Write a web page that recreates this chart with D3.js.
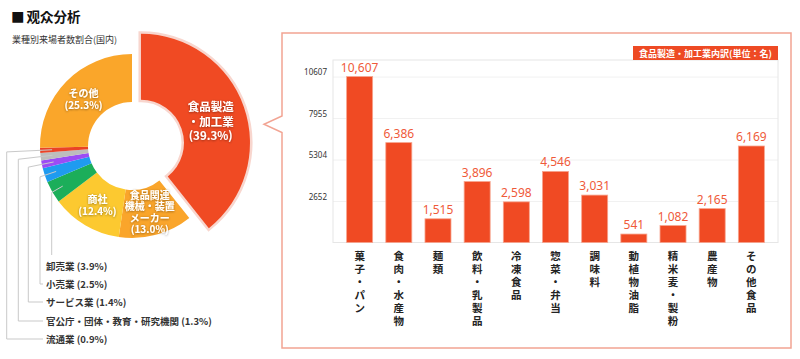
<!DOCTYPE html>
<html>
<head>
<meta charset="utf-8">
<script src="https://cdn.jsdelivr.net/npm/d3@7"></script>
<style>
  body { margin: 0; background: #fff; }
  svg { display: block; font-family: "Noto Sans CJK JP", "Noto Sans", sans-serif; }
</style>
</head>
<body>
<svg id="chart" width="800" height="359"></svg>
<script>
// donut: visitors by industry
var pieNames = ["食品製造\n・加工業", "食品関連\n機械・装置\nメーカー", "商社", "卸売業", "小売業",
                "サービス業", "官公庁・団体・教育・研究機関", "流通業", "その他"];
var pieShares = [39.3, 13.0, 12.4, 3.9, 2.5, 1.4, 1.3, 0.9, 25.3];
var pieColors = ["#f04a23", "#faa52b", "#fcc930", "#1cae5a", "#1f9bf0", "#9b4cf5", "#bdbdbd", "#ea4226", "#faa62a"];
var pieInside = [true, true, true, false, false, false, false, false, true];

// bars: breakdown of food manufacturing
var barNames = ["菓子・パン", "食肉・水産物", "麺類", "飲料・乳製品", "冷凍食品", "惣菜・弁当",
                "調味料", "動植物油脂", "精米麦・製粉", "農産物", "その他食品"];
var barValues = [10607, 6386, 1515, 3896, 2598, 4546, 3031, 541, 1082, 2165, 6169];
var yTicks = [2652, 5304, 7955, 10607];

var svg = d3.select("#chart");

var defs = svg.append("defs");
defs.append("filter").attr("id", "shadow")
    .attr("x", "-20%").attr("y", "-20%").attr("width", "140%").attr("height", "140%")
  .append("feDropShadow")
    .attr("dx", 0).attr("dy", 0.6).attr("stdDeviation", 0.9)
    .attr("flood-color", "#000").attr("flood-opacity", 0.45);

// titles
svg.append("text").attr("x", 11).attr("y", 15.5).attr("dominant-baseline", "central")
    .attr("font-size", 13.5).attr("font-weight", "bold").attr("fill", "#111").text("■");
svg.append("text").attr("x", 26.5).attr("y", 15.5).attr("dominant-baseline", "central")
    .attr("font-size", 13.5).attr("font-weight", "bold").attr("fill", "#111").text("观众分析");
svg.append("text").attr("x", 12).attr("y", 39).attr("dominant-baseline", "central")
    .attr("font-size", 9).attr("fill", "#333").text("業種別来場者数割合(国内)");

// ---- donut ----
var cx = 132, cy = 146, rIn = 44, rOut = 92;
var pie = d3.pie().sort(null).value(function(d) { return d; });
var arcs = pie(pieShares);
var arc = d3.arc().innerRadius(rIn).outerRadius(rOut);
var arcMain = d3.arc().innerRadius(43).outerRadius(109);

var gPie = svg.append("g").attr("transform", "translate(" + cx + "," + cy + ")");

function offset(d, i) {
  if (i !== 0) return [0, 0];
  var a = (d.startAngle + d.endAngle) / 2;
  return [9.5 * Math.sin(a), -9.5 * Math.cos(a)];
}

gPie.selectAll("path.slice")
  .data(arcs)
  .enter().append("path")
    .attr("class", "slice")
    .attr("transform", function(d, i) { var o = offset(d, i); return "translate(" + o[0] + "," + o[1] + ")"; })
    .attr("d", function(d, i) { return i === 0 ? arcMain(d) : arc(d); })
    .attr("fill", function(d, i) { return pieColors[i]; })
    .attr("stroke", function(d, i) { return i === 0 ? "#f8d6ce" : "none"; })
    .attr("stroke-width", function(d, i) { return i === 0 ? 5 : 0; })
    .attr("paint-order", "stroke");

// leader lines + outside labels
var leaderX = [51.7, 40, 28.3, 18.3, 6.7];
var leaderY = [266, 284, 302, 321, 339];
var labelX = 46;
var outside = arcs.filter(function(d, i) { return !pieInside[i]; });

outside.forEach(function(d, k) {
  var i = d.index;
  var a = (d.startAngle + d.endAngle) / 2;
  var sx = cx + 80 * Math.sin(a), sy = cy - 80 * Math.cos(a);
  var re = (cx - leaderX[k]) / -Math.sin(a);
  var ex = leaderX[k], ey = cy - re * Math.cos(a);
  var pts = [[sx, sy], [ex, ey]];
  if (ex > labelX - 3) {
    pts.push([ex, leaderY[k] - 11]);
  } else {
    pts.push([ex, leaderY[k]]);
    pts.push([labelX - 3, leaderY[k]]);
  }
  svg.append("path")
      .attr("d", d3.line()(pts))
      .attr("fill", "none")
      .attr("stroke", "#c9c9c9")
      .attr("stroke-width", 1);
  svg.append("text")
      .attr("x", labelX).attr("y", leaderY[k])
      .attr("dominant-baseline", "central")
      .attr("font-size", 9.5).attr("font-weight", "bold").attr("fill", "#333")
      .text(pieNames[i] + " (" + pieShares[i].toFixed(1) + "%)");
});

// inside labels
arcs.forEach(function(d, i) {
  if (!pieInside[i]) return;
  var o = offset(d, i);
  var c = i === 0 ? arcMain.centroid(d) : arc.centroid(d);
  var lines = pieNames[i].split("\n").concat(["(" + pieShares[i].toFixed(1) + "%)"]);
  var lh = i === 0 ? 14.5 : 11.5;
  var fs = i === 0 ? 11.5 : 10;
  var t = gPie.append("text")
      .attr("text-anchor", "middle")
      .attr("font-size", fs).attr("font-weight", "bold").attr("fill", "#fff")
      .attr("filter", "url(#shadow)");
  lines.forEach(function(s, j) {
    t.append("tspan")
        .attr("x", c[0] + o[0] - (i === 0 ? 2 : 0))
        .attr("y", c[1] + o[1] + (i === 0 ? 3 : 0) + (j - (lines.length - 1) / 2) * lh)
        .attr("dominant-baseline", "central")
        .text(s);
  });
});

// ---- right panel ----
var box = { l: 282, t: 33, r: 791, b: 348 };
svg.append("path")
    .attr("d", "M" + box.l + "," + box.t + "H" + box.r + "V" + box.b + "H" + box.l +
               "V132.5L264,124.3L" + box.l + ",116Z")
    .attr("fill", "#fff")
    .attr("stroke", "#f2a493")
    .attr("stroke-width", 1.5);

var plot = { l: 333, t: 60, r: 778, b: 242.5 };

var x = d3.scaleBand().domain(barNames).range([plot.l, plot.r])
    .paddingInner(0.336).paddingOuter(0.348);
var y = d3.scaleLinear().domain([0, 10607 * 1.1]).range([plot.b, plot.t]);

// grid + y labels
var yAxis = svg.append("g")
    .attr("transform", "translate(" + plot.l + ",0)")
    .call(d3.axisLeft(y).tickValues(yTicks).tickSize(-(plot.r - plot.l)).tickFormat(d3.format("d")));
yAxis.select(".domain").remove();
yAxis.selectAll(".tick line").attr("stroke", "#f1f1f1");
yAxis.selectAll(".tick text")
    .attr("x", -6).attr("dy", "-5.5").attr("dominant-baseline", "central")
    .attr("font-size", 8).attr("fill", "#333")
    .attr("font-family", "\"Noto Sans\", sans-serif");

svg.append("rect")
    .attr("x", plot.l).attr("y", plot.t)
    .attr("width", plot.r - plot.l).attr("height", plot.b - plot.t)
    .attr("fill", "none").attr("stroke", "#e6e6e6").attr("stroke-width", 1);

// badge
svg.append("rect").attr("x", 633).attr("y", 46).attr("width", plot.r - 633).attr("height", 14)
    .attr("fill", "#ee4a24");
svg.append("text").attr("x", (633 + plot.r) / 2).attr("y", 53)
    .attr("text-anchor", "middle").attr("dominant-baseline", "central")
    .attr("font-size", 9).attr("font-weight", "bold").attr("fill", "#fff")
    .text("食品製造・加工業内訳(単位：名)");

// bars
svg.append("g").selectAll("rect")
  .data(barValues)
  .enter().append("rect")
    .attr("x", function(d, i) { return x(barNames[i]); })
    .attr("y", function(d) { return y(d); })
    .attr("width", x.bandwidth())
    .attr("height", function(d) { return plot.b - y(d); })
    .attr("fill", "#f04a23")
    .attr("stroke", "#f7a48e")
    .attr("stroke-width", 0.8);

svg.append("g").selectAll("text")
  .data(barValues)
  .enter().append("text")
    .attr("x", function(d, i) { return x(barNames[i]) + x.bandwidth() / 2; })
    .attr("y", function(d) { return y(d) - 5; })
    .attr("text-anchor", "middle")
    .attr("font-size", 12).attr("fill", "#ef5a3a")
    .attr("font-family", "\"Noto Sans\", sans-serif")
    .text(function(d) { return d3.format(",")(d); });

// vertical category labels
var xAxis = svg.append("g")
    .attr("transform", "translate(0," + plot.b + ")")
    .call(d3.axisBottom(x).tickSize(0));
xAxis.select(".domain").remove();
xAxis.selectAll(".tick text").each(function(name) {
  var t = d3.select(this).text(null)
      .attr("y", 0).attr("dy", null)
      .attr("font-size", 10.5).attr("font-weight", "bold").attr("fill", "#222")
      .attr("font-family", "\"Noto Sans CJK JP\", sans-serif");
  Array.from(name).forEach(function(ch, j) {
    t.append("tspan").attr("x", 0).attr("y", 12.5 + j * 13)
        .attr("dominant-baseline", "central").text(ch);
  });
});
</script>
</body>
</html>
